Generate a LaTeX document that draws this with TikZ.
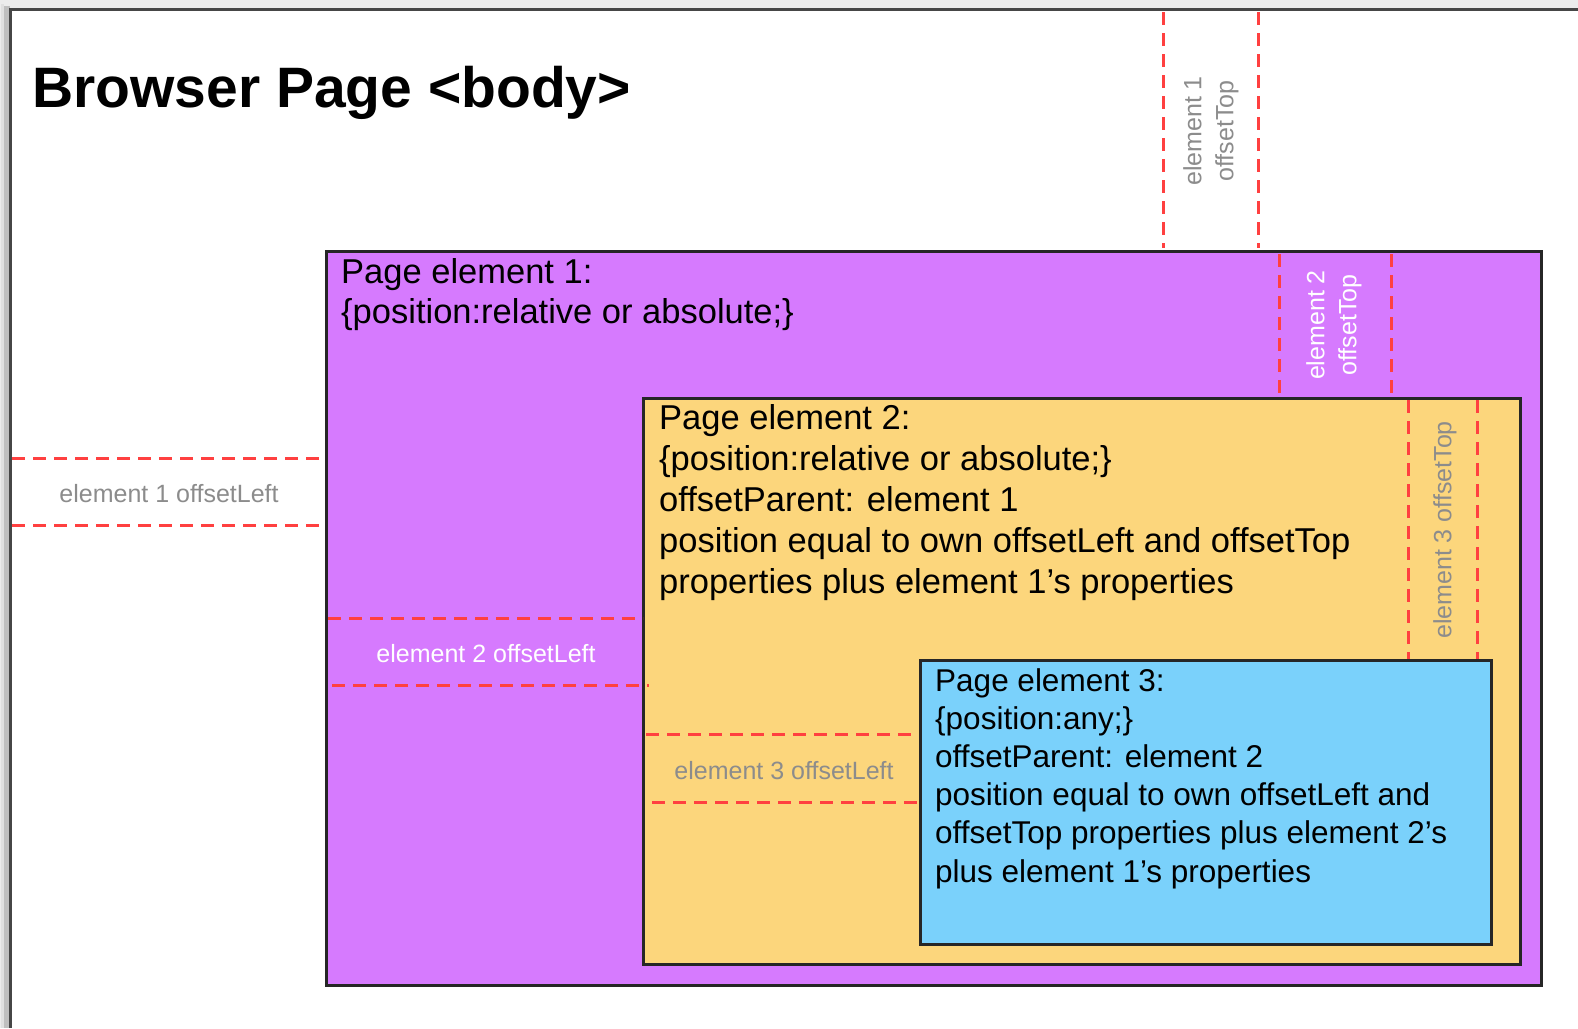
\documentclass[tikz,border=0pt]{standalone}
\usepackage{fontspec}
\setmainfont{Liberation Sans}
\definecolor{purp}{RGB}{214,122,254}
\definecolor{oran}{RGB}{252,214,124}
\definecolor{blu}{RGB}{122,209,251}
\definecolor{guidered}{RGB}{255,64,64}
\definecolor{labgray}{RGB}{140,140,140}
\definecolor{bggray}{RGB}{236,236,236}
\definecolor{framegray}{RGB}{70,70,70}
\begin{document}
\begin{tikzpicture}[x=1pt,y=-1pt,
  boxline/.style={draw=black!85,line width=3pt},
  guide/.style={draw=guidered,line width=3pt,dash pattern=on 13pt off 8pt},
  boxtext/.style={inner sep=0pt,anchor=base west,align=left,text=black},
  lab/.style={inner sep=0pt,font=\fontsize{25}{32}\selectfont,align=center}]
\useasboundingbox (0,0) rectangle (1578,1028);
\fill[bggray] (0,0) rectangle (1578,1028);
\fill[black!25] (4,6) rectangle (10,1028);
\fill[black!12] (1,4) rectangle (4,1028);
\fill[white] (10,9) rectangle (1578,1028);
\draw[framegray,line width=3pt] (10,1028) -- (10,9) -- (1578,9);
% title
\node[inner sep=0pt,anchor=base west,font=\fontsize{57}{60}\selectfont\bfseries] (title) at (32,107) {Browser Page <body>};
% boxes
\draw[boxline,fill=purp] (326,251) rectangle (1541,985);
\draw[boxline,fill=oran] (643,398) rectangle (1520,964);
\draw[boxline,fill=blu] (920,660) rectangle (1491,944);
% box texts (base anchor = baseline of last line)
\node[boxtext,font=\fontsize{34.5}{40.3}\selectfont] (t1) at (341,323.3)
  {Page element 1:\\ \{position:relative or absolute;\}};
\node[boxtext,font=\fontsize{34.5}{41}\selectfont] (t2) at (659,593)
  {Page element 2:\\ \{position:relative or absolute;\}\\ offsetParent: element 1\\ position equal to own offsetLeft and offsetTop\\ properties plus element 1's properties};
\node[boxtext,font=\fontsize{31.5}{38.2}\selectfont] (t3) at (935,882)
  {Page element 3:\\ \{position:any;\}\\ offsetParent: element 2\\ position equal to own offsetLeft and\\ offsetTop properties plus element 2's\\ plus element 1's properties};
% guides element 1
\coordinate (a1) at (1163,12); \coordinate (a2) at (1163,248);
\coordinate (b1) at (1258,12); \coordinate (b2) at (1258,248);
\draw[guide] (a1) -- (a2);
\draw[guide] (b1) -- (b2);
\node[lab,rotate=90,text=labgray] (l1t) at (1211,131) {element 1\\ offsetTop};
\coordinate (c1) at (12,458); \coordinate (c2) at (324,458);
\coordinate (d1) at (12,525); \coordinate (d2) at (324,525);
\draw[guide] (c1) -- (c2);
\draw[guide] (d1) -- (d2);
\node[lab,text=labgray] (l1l) at (169,494) {element 1 offsetLeft};
% guides element 2
\coordinate (e1) at (1279,254); \coordinate (e2) at (1279,398);
\coordinate (f1) at (1391,254); \coordinate (f2) at (1391,398);
\draw[guide] (e1) -- (e2);
\draw[guide] (f1) -- (f2);
\node[lab,rotate=90,text=white] (l2t) at (1334,325) {element 2\\ offsetTop};
\coordinate (g1) at (328,618); \coordinate (g2) at (643,618);
\coordinate (h1) at (332,685); \coordinate (h2) at (649,685);
\draw[guide] (g1) -- (g2);
\draw[guide] (h1) -- (h2);
\node[lab,text=white] (l2l) at (486,654) {element 2 offsetLeft};
% guides element 3
\coordinate (i1) at (1408,400); \coordinate (i2) at (1408,659);
\coordinate (j1) at (1477,400); \coordinate (j2) at (1477,659);
\draw[guide] (i1) -- (i2);
\draw[guide] (j1) -- (j2);
\node[lab,rotate=90,text=labgray] (l3t) at (1445,530) {element 3 offsetTop};
\coordinate (k1) at (646,734); \coordinate (k2) at (916,734);
\coordinate (m1) at (652,802); \coordinate (m2) at (924,802);
\draw[guide] (k1) -- (k2);
\draw[guide] (m1) -- (m2);
\node[lab,text=labgray] (l3l) at (784,771) {element 3 offsetLeft};
\end{tikzpicture}
\end{document}
